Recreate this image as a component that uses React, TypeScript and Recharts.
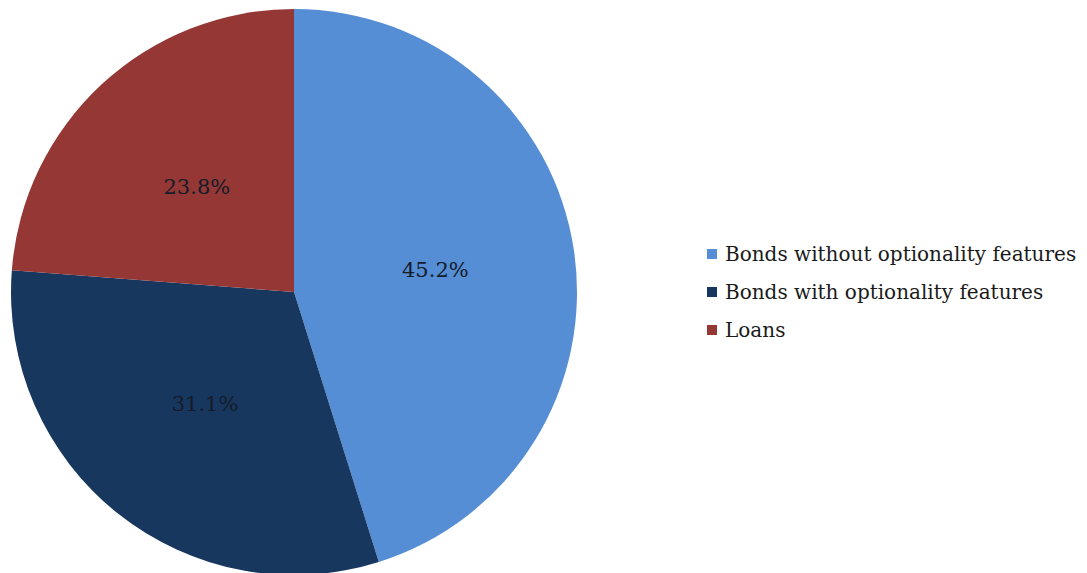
import React from "react";
import { PieChart, Pie, Cell, Legend } from "recharts";

const categories = [
  "Bonds without optionality features",
  "Bonds with optionality features",
  "Loans",
];
const shares = [45.2, 31.1, 23.8];
const colors = ["#558ED5", "#17375E", "#953735"];

const data = categories.map((name, i) => ({ name, value: shares[i] }));

const FONT = "'DejaVu Serif', 'Liberation Serif', serif";
const RAD = Math.PI / 180;

const renderLabel = (props: any) => {
  const { cx, cy, midAngle, value } = props;
  const r = 143;
  const x = cx + r * Math.cos(-midAngle * RAD);
  const y = cy + r * Math.sin(-midAngle * RAD);
  return (
    <text
      x={x}
      y={y}
      fill="#141c2a"
      textAnchor="middle"
      dominantBaseline="central"
      fontFamily={FONT}
      fontSize={21}
    >
      {`${value.toFixed(1)}%`}
    </text>
  );
};

const LegendContent = () => {
  return (
    <div>
      {categories.map((name, i) => (
        <div
          key={name}
          style={{
            display: "flex",
            alignItems: "center",
            height: 38,
            fontFamily: FONT,
            fontSize: 20,
            color: "#1a1a1a",
            whiteSpace: "nowrap",
          }}
        >
          <span
            style={{
              display: "inline-block",
              width: 10,
              height: 10,
              background: colors[i],
              marginRight: 8,
              flex: "none",
            }}
          />
          {name}
        </div>
      ))}
    </div>
  );
};

export default function App() {
  return (
    <div
      style={{
        position: "absolute",
        left: 0,
        top: 0,
        width: 1087,
        height: 573,
        background: "#ffffff",
        overflow: "hidden",
      }}
    >
      <PieChart
        width={1087}
        height={573}
        margin={{ top: 0, right: 0, bottom: 0, left: 0 }}
      >
        <Pie
          data={data}
          dataKey="value"
          nameKey="name"
          cx={294}
          cy={292}
          outerRadius={283}
          startAngle={90}
          endAngle={-270}
          stroke="none"
          label={renderLabel}
          labelLine={false}
          isAnimationActive={false}
        >
          {data.map((d, i) => (
            <Cell key={d.name} fill={colors[i]} />
          ))}
        </Pie>
        <Legend
          layout="vertical"
          content={<LegendContent />}
          wrapperStyle={{ position: "absolute", left: 707, top: 235, width: 380 }}
        />
      </PieChart>
    </div>
  );
}
